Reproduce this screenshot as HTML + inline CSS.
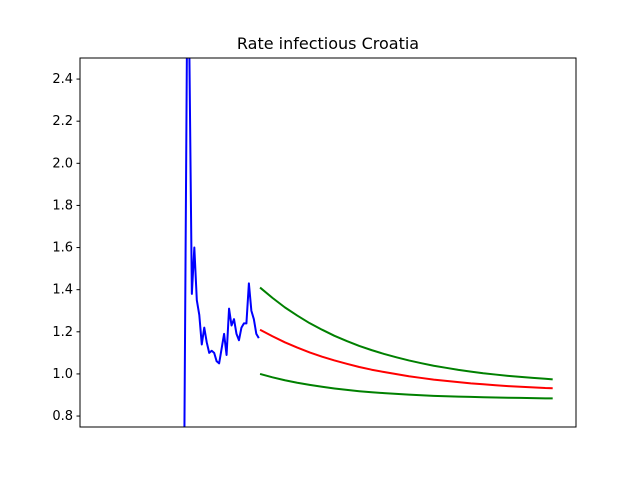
<!DOCTYPE html>
<html><head><meta charset="utf-8">
<style>
html,body{margin:0;padding:0;background:#fff;overflow:hidden;width:640px;height:480px;}
svg{display:block;font-family:"DejaVu Sans","Liberation Sans",sans-serif;}
</style></head>
<body>
<svg id="chart" width="640" height="480">
  <rect x="0" y="0" width="640" height="480" fill="#fff"/>
  <text x="328" y="49" font-size="16" text-anchor="middle">Rate infectious Croatia</text>
  <defs><clipPath id="clip"><rect x="80" y="58" width="496" height="369"/></clipPath></defs>
  <g id="series" clip-path="url(#clip)"></g>
  <g id="yticks"></g>
  <rect x="80" y="58" width="496" height="369" fill="none" stroke="#000" stroke-width="1"/>
</svg>
<script>
const yTicks = [0.8, 1.0, 1.2, 1.4, 1.6, 1.8, 2.0, 2.2, 2.4];
const observed = [-1, 3.0, 3.0, 1.38, 1.60, 1.35, 1.28, 1.14, 1.22, 1.15, 1.10, 1.11, 1.10, 1.06, 1.05, 1.12, 1.19, 1.09, 1.31, 1.23, 1.26, 1.19, 1.16, 1.22, 1.24, 1.24, 1.43, 1.30, 1.26, 1.19, 1.17];
const forecastDays = [0,5,10,15,20,25,30,35,40,45,50,55,60,65,70,75,80,85,90,95,100,105,110,115,118];
const forecastMid = [1.21,1.179,1.150,1.125,1.102,1.082,1.064,1.048,1.033,1.020,1.009,0.999,0.989,0.981,0.973,0.967,0.961,0.955,0.951,0.946,0.942,0.939,0.936,0.933,0.932];
const forecastHigh = [1.41,1.361,1.316,1.277,1.241,1.210,1.181,1.156,1.133,1.113,1.095,1.079,1.064,1.051,1.039,1.029,1.019,1.011,1.003,0.997,0.991,0.986,0.981,0.977,0.974];
const forecastLow = [1.000,0.984,0.970,0.958,0.948,0.939,0.931,0.924,0.918,0.913,0.909,0.905,0.902,0.899,0.896,0.894,0.892,0.891,0.889,0.888,0.887,0.886,0.885,0.884,0.884];
const forecastStart = 30.5;

const X0 = 80, X1 = 576, Y0 = 58, Y1 = 427;
const xMin = -42.1, xMax = 157.9, yMin = 0.748, yMax = 2.5;
function xs(d){ return X0 + (d - xMin) / (xMax - xMin) * (X1 - X0); }
function ys(v){
  const y = Y1 - (v - yMin) / (yMax - yMin) * (Y1 - Y0);
  return Math.max(Y0 - 5, Math.min(Y1 + 5, y));
}
const NS = "http://www.w3.org/2000/svg";
const series = document.getElementById('series');
const yt = document.getElementById('yticks');

yTicks.forEach(v => {
  const y = ys(v);
  const l = document.createElementNS(NS, 'line');
  l.setAttribute('x1', X0 - 3.5); l.setAttribute('x2', X0);
  l.setAttribute('y1', y); l.setAttribute('y2', y);
  l.setAttribute('stroke', '#000');
  
  
  yt.appendChild(l);
  const t = document.createElementNS(NS, 'text');
  t.setAttribute('x', X0 - 7); t.setAttribute('y', y + 4);
  t.setAttribute('font-size', '13'); t.setAttribute('text-anchor', 'end');
  t.textContent = v.toFixed(1);
  
  
  yt.appendChild(t);
});

function addLine(pts, color, name){
  const p = document.createElementNS(NS, 'polyline');
  p.setAttribute('points', pts.map(q => q[0].toFixed(2) + ',' + q[1].toFixed(2)).join(' '));
  p.setAttribute('fill', 'none');
  p.setAttribute('stroke', color);
  p.setAttribute('stroke-width', '2');
  p.setAttribute('stroke-linejoin', 'round');
  
  
  series.appendChild(p);
}
addLine(observed.map((v, i) => [xs(i), ys(v)]), '#0000ff', 'observed-rate-line');
addLine(forecastDays.map((d, i) => [xs(forecastStart + d), ys(forecastHigh[i])]), '#008000', 'forecast-upper-line');
addLine(forecastDays.map((d, i) => [xs(forecastStart + d), ys(forecastMid[i])]), '#ff0000', 'forecast-mid-line');
addLine(forecastDays.map((d, i) => [xs(forecastStart + d), ys(forecastLow[i])]), '#008000', 'forecast-lower-line');
</script>
</body></html>
